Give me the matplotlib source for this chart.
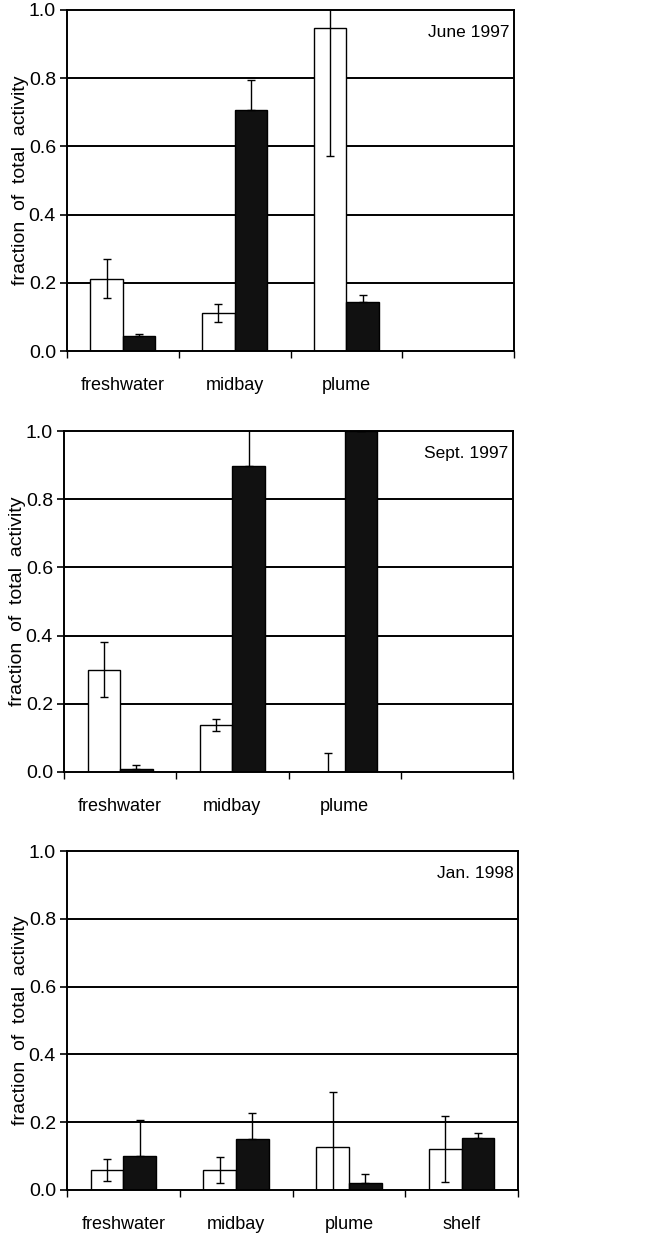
import numpy as np
import matplotlib
matplotlib.use("Agg")
import matplotlib.pyplot as plt

plt.rcParams['font.family'] = ['Liberation Sans', 'DejaVu Sans']

categories = ["freshwater", "midbay", "plume", "shelf"]
panel_titles = ["June 1997", "Sept. 1997", "Jan. 1998"]

# white bars (open) and black bars (filled), with error values
june_white = [0.212, 0.112, 0.946]
june_white_err = [0.057, 0.026, 0.373]
june_black = [0.044, 0.707, 0.145]
june_black_err = [0.007, 0.088, 0.018]

sept_white = [0.300, 0.138, 0.0]
sept_white_err = [0.080, 0.018, 0.056]
sept_black = [0.010, 0.898, 1.0]
sept_black_err = [0.011, 0.15, 0.0]

jan_white = [0.058, 0.058, 0.128, 0.121]
jan_white_err = [0.032, 0.038, 0.160, 0.097]
jan_black = [0.101, 0.151, 0.020, 0.153]
jan_black_err = [0.106, 0.076, 0.026, 0.015]

yticks = [0.0, 0.2, 0.4, 0.6, 0.8, 1.0]
ytick_labels = ["0.0", "0.2", "0.4", "0.6", "0.8", "1.0"]

fig = plt.figure(figsize=(6.49, 12.33), dpi=100)

axes_pos = [
    [67/649, 1-351/1233, 447/649, 341/1233],
    [64/649, 1-772/1233, 449/649, 341/1233],
    [67/649, 1-1190/1233, 451/649, 339/1233],
]

data = [
    (june_white, june_white_err, june_black, june_black_err, 3),
    (sept_white, sept_white_err, sept_black, sept_black_err, 3),
    (jan_white, jan_white_err, jan_black, jan_black_err, 4),
]

bw = 0.29
for pos, title, (wv, we, bv, be, n) in zip(axes_pos, panel_titles, data):
    ax = fig.add_axes(pos)
    x = np.arange(n) + 0.5
    ax.set_xlim(0, 4)
    ax.set_ylim(0, 1.0)
    for yv in yticks[1:-1]:
        ax.axhline(yv, color='black', lw=1.4, zorder=1)
    ax.bar(x - bw/2, wv, width=bw, color='white', edgecolor='black', lw=1.0, zorder=2)
    ax.bar(x + bw/2, bv, width=bw, color='#111111', edgecolor='black', lw=1.0, zorder=2)
    ax.errorbar(x - bw/2, wv, yerr=we, fmt='none', ecolor='black', elinewidth=1.0,
                capsize=3, capthick=1.0, zorder=3)
    # lower half of black-bar error bars is hidden inside the black bar
    ax.errorbar(x + bw/2, bv, yerr=[np.zeros(n), be], fmt='none', ecolor='black',
                elinewidth=1.0, capsize=3, capthick=1.0, zorder=3)
    for s in ax.spines.values():
        s.set_linewidth(1.4)
        s.set_color('black')
    ax.set_yticks(yticks)
    ax.set_yticklabels(ytick_labels, fontsize=14)
    ax.tick_params(axis='y', direction='out', length=5, width=1.2, pad=3)
    ax.set_xticks([0, 1, 2, 3, 4])
    ax.set_xticklabels([])
    ax.tick_params(axis='x', which='major', direction='out', length=5, width=1.0)
    ax.set_xticks(np.arange(4) + 0.5, minor=True)
    ax.set_xticklabels(categories[:n] + [""] * (4 - n), minor=True, fontsize=13)
    ax.tick_params(axis='x', which='minor', length=0, pad=19)
    ax.set_ylabel("fraction  of  total  activity", fontsize=14, labelpad=0)
    ax.text(0.99, 0.955, title, transform=ax.transAxes, ha='right', va='top', fontsize=12.5)

fig.savefig("out.png", dpi=100)
